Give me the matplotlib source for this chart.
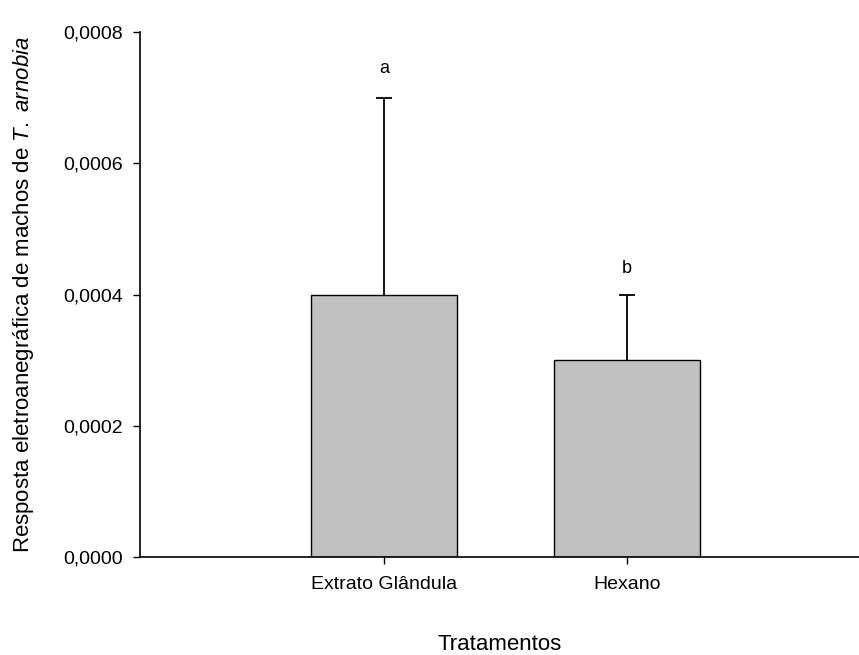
import matplotlib
matplotlib.use("Agg")
import matplotlib.pyplot as plt
import numpy as np

plt.rcParams['font.family'] = ['Liberation Sans', 'DejaVu Sans']
plt.rcParams['mathtext.fontset'] = 'custom'
plt.rcParams['mathtext.rm'] = 'Liberation Sans'
plt.rcParams['mathtext.it'] = 'Liberation Sans:italic'

categories = ['Extrato Glândula', 'Hexano']
means = [0.0004, 0.0003]
errors = [0.0003, 0.0001]
letters = ['a', 'b']
letter_y = [0.000745, 0.00044]
yticks = [0.0, 0.0002, 0.0004, 0.0006, 0.0008]
ytick_labels = ['0,0000', '0,0002', '0,0004', '0,0006', '0,0008']

fig = plt.figure(figsize=(8.59, 6.55), dpi=100)
ax = fig.add_axes([0.163, 0.1496, 0.837, 0.8015])

x = np.arange(len(categories))
means = np.array(means)
errors = np.array(errors)
ax.bar(x, means, width=0.6, color='#c0c0c0', edgecolor='black', linewidth=1.0, zorder=2)
# upper error bars only (no cap on the bar top)
ax.vlines(x, means, means + errors, colors='black', linewidth=1.3, zorder=3)
ax.plot(x, means + errors, linestyle='none', marker='_', markersize=11,
        markeredgewidth=1.3, color='black', zorder=3)
for xi, lt, ly in zip(x, letters, letter_y):
    ax.text(xi, ly, lt, ha='center', va='center', fontsize=13)

ax.set_xlim(-1.004, 1.955)
ax.set_ylim(0, 0.0008)
ax.set_yticks(yticks)
ax.set_yticklabels(ytick_labels, fontsize=14)
ax.set_xticks(x)
ax.set_xticklabels(categories, fontsize=14)
ax.tick_params(axis='y', direction='out', length=5, width=1, pad=7)
ax.tick_params(axis='x', direction='out', length=5, width=1, pad=9)
ax.spines['top'].set_visible(False)
ax.spines['right'].set_visible(False)
ax.spines['left'].set_linewidth(1.2)
ax.spines['bottom'].set_linewidth(1.2)

ax.set_xlabel('Tratamentos', fontsize=16, labelpad=29)
ax.set_ylabel(r'Resposta eletroanegráfica de machos de $\it{T.}$ $\it{arnobia}$', fontsize=16, labelpad=20)

fig.savefig('out.png', dpi=100)
